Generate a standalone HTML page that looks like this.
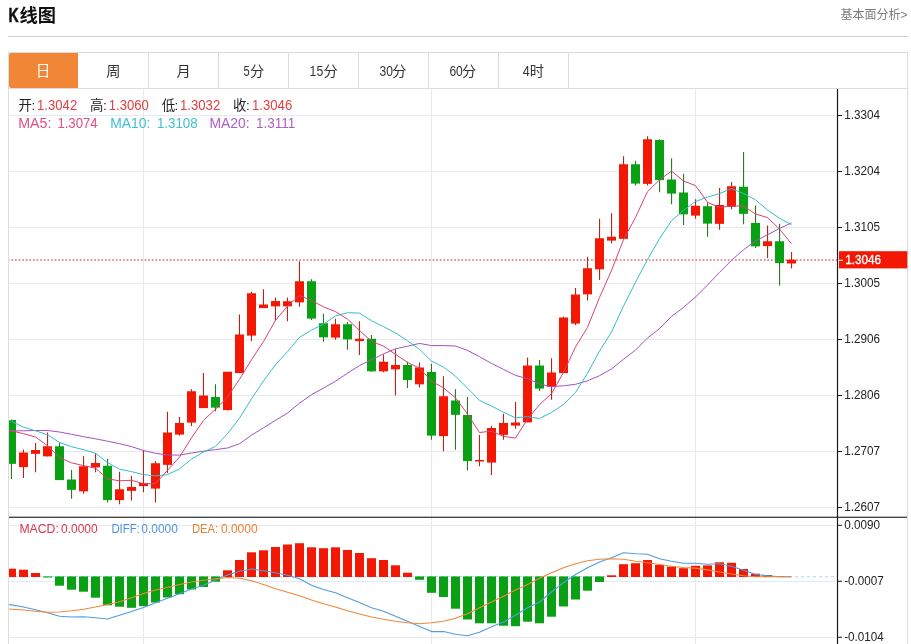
<!DOCTYPE html>
<html lang="zh"><head><meta charset="utf-8"><title>K线图</title>
<style>
html,body{margin:0;padding:0;background:#fff;}
body{width:911px;height:644px;position:relative;overflow:hidden;font-family:"Liberation Sans",sans-serif;}
</style></head><body>
<svg role="img" aria-label="K线图 日K 蜡烛图 MA5 MA10 MA20 MACD" width="911" height="644" viewBox="0 0 911 644" font-family="'Liberation Sans', 'Noto Sans CJK SC', sans-serif" style="position:absolute;left:0;top:0;display:block;will-change:transform">
<g id="header" aria-label="K线图 基本面分析&gt;">
<text x="8.6" y="22.4" font-size="19.6" fill="#111" textLength="10.2" lengthAdjust="spacingAndGlyphs" font-weight="bold" stroke="#111" stroke-width="0.6">K</text>
<text x="19.4" y="22.3" font-size="18.2" fill="#111" font-weight="bold" textLength="36.5" lengthAdjust="spacingAndGlyphs" font-family="'Liberation Sans', 'Noto Sans CJK SC', sans-serif">线图</text>
<text x="840.5" y="19.0" font-size="12.2" fill="#7d7d7d" textLength="60" lengthAdjust="spacingAndGlyphs" font-family="'Liberation Sans', 'Noto Sans CJK SC', sans-serif">基本面分析</text>
<text x="900.6" y="18.8" font-size="12" fill="#7d7d7d">&gt;</text>
<rect x="8" y="36" width="900" height="1" fill="#cfcfcf"/>
</g>
<g id="tabs" aria-label="日 周 月 5分 15分 30分 60分 4时">
<rect x="8.5" y="52.5" width="899" height="36" fill="#fff" stroke="#dcdcdc"/>
<path d="M11 53H78V88H11a2 2 0 0 1-2-2V55a2 2 0 0 1 2-2z" fill="#f08636"/>
<rect x="148" y="53" width="1" height="35" fill="#dcdcdc"/>
<rect x="218" y="53" width="1" height="35" fill="#dcdcdc"/>
<rect x="288" y="53" width="1" height="35" fill="#dcdcdc"/>
<rect x="358" y="53" width="1" height="35" fill="#dcdcdc"/>
<rect x="428" y="53" width="1" height="35" fill="#dcdcdc"/>
<rect x="498" y="53" width="1" height="35" fill="#dcdcdc"/>
<rect x="568" y="53" width="1" height="35" fill="#dcdcdc"/>
<text x="35.8" y="75.8" font-size="14.6" fill="#fff" font-family="'Liberation Sans', 'Noto Sans CJK SC', sans-serif">日</text>
<text x="106.3" y="75.9" font-size="14.2" fill="#333" font-family="'Liberation Sans', 'Noto Sans CJK SC', sans-serif">周</text>
<text x="176.6" y="75.9" font-size="14.2" fill="#333" font-family="'Liberation Sans', 'Noto Sans CJK SC', sans-serif">月</text>
<text x="243.4" y="76.3" font-size="14.2" fill="#333" textLength="6.2" lengthAdjust="spacingAndGlyphs">5</text>
<text x="249.9" y="76.1" font-size="14.2" fill="#333" font-family="'Liberation Sans', 'Noto Sans CJK SC', sans-serif">分</text>
<text x="309.6" y="76.3" font-size="14.2" fill="#333" textLength="13.6" lengthAdjust="spacingAndGlyphs">15</text>
<text x="323.4" y="76.1" font-size="14.2" fill="#333" font-family="'Liberation Sans', 'Noto Sans CJK SC', sans-serif">分</text>
<text x="379.5" y="76.3" font-size="14.2" fill="#333" textLength="13.4" lengthAdjust="spacingAndGlyphs">30</text>
<text x="392.2" y="76.1" font-size="14.2" fill="#333" font-family="'Liberation Sans', 'Noto Sans CJK SC', sans-serif">分</text>
<text x="449.4" y="76.3" font-size="14.2" fill="#333" textLength="13.4" lengthAdjust="spacingAndGlyphs">60</text>
<text x="462.1" y="76.1" font-size="14.2" fill="#333" font-family="'Liberation Sans', 'Noto Sans CJK SC', sans-serif">分</text>
<text x="522.8" y="76.3" font-size="14.2" fill="#333" textLength="7.0" lengthAdjust="spacingAndGlyphs">4</text>
<text x="529.8" y="76.3" font-size="14.2" fill="#333" font-family="'Liberation Sans', 'Noto Sans CJK SC', sans-serif">时</text>
</g>
<g id="grid" shape-rendering="crispEdges">
<rect x="8" y="89" width="1" height="555" fill="#dcdcdc"/>
<rect x="907" y="89" width="1" height="555" fill="#dcdcdc"/>
<rect x="9" y="115" width="826" height="1" fill="#e8e9ed"/>
<rect x="9" y="171" width="826" height="1" fill="#e8e9ed"/>
<rect x="9" y="227" width="826" height="1" fill="#e8e9ed"/>
<rect x="9" y="283" width="826" height="1" fill="#e8e9ed"/>
<rect x="9" y="339" width="826" height="1" fill="#e8e9ed"/>
<rect x="9" y="395" width="826" height="1" fill="#e8e9ed"/>
<rect x="9" y="451" width="826" height="1" fill="#e8e9ed"/>
<rect x="9" y="507" width="826" height="1" fill="#e8e9ed"/>
<rect x="9" y="525" width="826" height="1" fill="#e8e9ed"/>
<rect x="9" y="637" width="826" height="1" fill="#e8e9ed"/>
<rect x="9" y="581" width="826" height="1" fill="#dcedf7"/>
<rect x="143" y="89" width="1" height="555" fill="#e8e9ed"/>
<rect x="431" y="89" width="1" height="555" fill="#e8e9ed"/>
<rect x="695" y="89" width="1" height="555" fill="#e8e9ed"/>
</g>
<defs><clipPath id="cp"><rect x="9" y="89" width="828" height="428"/></clipPath><clipPath id="cm"><rect x="9" y="518" width="828" height="126"/></clipPath></defs>
<g id="legend" aria-label="开:1.3042 高:1.3060 低:1.3032 收:1.3046">
<text x="18.4" y="109.6" font-size="13.4" fill="#222" font-family="'Liberation Sans', 'Noto Sans CJK SC', sans-serif">开</text>
<text x="31.4" y="110.0" font-size="13.5" fill="#222">:</text>
<text x="37.0" y="110.0" font-size="13.8" fill="#e24040" textLength="40.2" lengthAdjust="spacingAndGlyphs">1.3042</text>
<text x="90.1" y="109.9" font-size="13.4" fill="#222" font-family="'Liberation Sans', 'Noto Sans CJK SC', sans-serif">高</text>
<text x="103.0" y="110.0" font-size="13.5" fill="#222">:</text>
<text x="108.7" y="110.0" font-size="13.8" fill="#e24040" textLength="40.2" lengthAdjust="spacingAndGlyphs">1.3060</text>
<text x="161.7" y="109.8" font-size="13.4" fill="#222" font-family="'Liberation Sans', 'Noto Sans CJK SC', sans-serif">低</text>
<text x="174.6" y="110.0" font-size="13.5" fill="#222">:</text>
<text x="180.0" y="110.0" font-size="13.8" fill="#e24040" textLength="40.2" lengthAdjust="spacingAndGlyphs">1.3032</text>
<text x="232.9" y="109.9" font-size="13.4" fill="#222" font-family="'Liberation Sans', 'Noto Sans CJK SC', sans-serif">收</text>
<text x="246.0" y="110.0" font-size="13.5" fill="#222">:</text>
<text x="252.0" y="110.0" font-size="13.8" fill="#e24040" textLength="40.2" lengthAdjust="spacingAndGlyphs">1.3046</text>
<text x="18.2" y="127.9" font-size="13.8" fill="#e0507f" textLength="33.2" lengthAdjust="spacingAndGlyphs">MA5:</text>
<text x="57.4" y="127.9" font-size="13.8" fill="#e0507f" textLength="40.2" lengthAdjust="spacingAndGlyphs">1.3074</text>
<text x="110.2" y="127.9" font-size="13.8" fill="#3fbfd2" textLength="40.2" lengthAdjust="spacingAndGlyphs">MA10:</text>
<text x="156.9" y="127.9" font-size="13.8" fill="#3fbfd2" textLength="40.8" lengthAdjust="spacingAndGlyphs">1.3108</text>
<text x="209.4" y="127.9" font-size="13.8" fill="#aa5fc9" textLength="40.2" lengthAdjust="spacingAndGlyphs">MA20:</text>
<text x="256.0" y="127.9" font-size="13.8" fill="#aa5fc9" textLength="39.4" lengthAdjust="spacingAndGlyphs">1.3111</text>
</g>
<line x1="9" y1="260.1" x2="837" y2="260.1" stroke="#dd6f75" stroke-width="1.5" stroke-dasharray="1.7 1.9" stroke-dashoffset="1.2"/>
<g id="candles" clip-path="url(#cp)">
<rect x="10.9" y="419.50" width="1.1" height="59.50" fill="#2b7a23"/>
<rect x="7" y="420.00" width="9" height="43.85" fill="#0aa014"/>
<rect x="22.9" y="449.50" width="1.1" height="28.50" fill="#b3261b"/>
<rect x="19" y="452.50" width="9" height="14.60" fill="#f21804"/>
<rect x="35.0" y="443.00" width="1.1" height="29.25" fill="#b3261b"/>
<rect x="31" y="450.00" width="9" height="3.85" fill="#f21804"/>
<rect x="47.0" y="432.50" width="1.1" height="24.00" fill="#b3261b"/>
<rect x="43" y="446.25" width="9" height="10.10" fill="#f21804"/>
<rect x="59.0" y="442.50" width="1.1" height="37.50" fill="#2b7a23"/>
<rect x="55" y="446.25" width="9" height="33.85" fill="#0aa014"/>
<rect x="71.0" y="470.00" width="1.1" height="28.75" fill="#2b7a23"/>
<rect x="67" y="479.50" width="9" height="10.35" fill="#0aa014"/>
<rect x="83.0" y="456.25" width="1.1" height="37.50" fill="#b3261b"/>
<rect x="79" y="466.25" width="9" height="25.10" fill="#f21804"/>
<rect x="95.0" y="453.25" width="1.1" height="19.00" fill="#b3261b"/>
<rect x="91" y="463.00" width="9" height="4.35" fill="#f21804"/>
<rect x="107.0" y="458.75" width="1.1" height="43.75" fill="#2b7a23"/>
<rect x="103" y="465.75" width="9" height="34.35" fill="#0aa014"/>
<rect x="119.0" y="471.75" width="1.1" height="32.50" fill="#b3261b"/>
<rect x="115" y="489.25" width="9" height="10.85" fill="#f21804"/>
<rect x="130.9" y="475.75" width="1.1" height="24.75" fill="#b3261b"/>
<rect x="127" y="487.00" width="9" height="3.85" fill="#f21804"/>
<rect x="142.9" y="450.00" width="1.1" height="42.25" fill="#b3261b"/>
<rect x="139" y="483.00" width="9" height="3.10" fill="#f21804"/>
<rect x="154.9" y="461.25" width="1.1" height="41.25" fill="#b3261b"/>
<rect x="151" y="463.25" width="9" height="25.35" fill="#f21804"/>
<rect x="166.9" y="411.75" width="1.1" height="61.25" fill="#b3261b"/>
<rect x="163" y="432.50" width="9" height="32.35" fill="#f21804"/>
<rect x="178.9" y="417.00" width="1.1" height="18.50" fill="#b3261b"/>
<rect x="175" y="423.00" width="9" height="11.60" fill="#f21804"/>
<rect x="190.9" y="389.25" width="1.1" height="36.75" fill="#b3261b"/>
<rect x="187" y="391.25" width="9" height="31.35" fill="#f21804"/>
<rect x="202.9" y="373.00" width="1.1" height="35.00" fill="#b3261b"/>
<rect x="199" y="395.50" width="9" height="12.60" fill="#f21804"/>
<rect x="214.9" y="384.25" width="1.1" height="27.00" fill="#2b7a23"/>
<rect x="211" y="397.00" width="9" height="10.60" fill="#0aa014"/>
<rect x="226.9" y="371.75" width="1.1" height="38.75" fill="#b3261b"/>
<rect x="223" y="371.75" width="9" height="38.35" fill="#f21804"/>
<rect x="238.9" y="314.50" width="1.1" height="58.50" fill="#b3261b"/>
<rect x="235" y="334.50" width="9" height="38.60" fill="#f21804"/>
<rect x="250.9" y="291.75" width="1.1" height="49.50" fill="#b3261b"/>
<rect x="247" y="293.25" width="9" height="42.35" fill="#f21804"/>
<rect x="262.9" y="289.25" width="1.1" height="18.75" fill="#b3261b"/>
<rect x="259" y="304.50" width="9" height="3.60" fill="#f21804"/>
<rect x="274.9" y="297.50" width="1.1" height="23.00" fill="#b3261b"/>
<rect x="271" y="301.00" width="9" height="5.35" fill="#f21804"/>
<rect x="286.9" y="297.50" width="1.1" height="23.75" fill="#b3261b"/>
<rect x="283" y="301.25" width="9" height="5.10" fill="#f21804"/>
<rect x="298.9" y="261.25" width="1.1" height="45.50" fill="#b3261b"/>
<rect x="295" y="281.25" width="9" height="21.10" fill="#f21804"/>
<rect x="310.9" y="279.25" width="1.1" height="40.75" fill="#2b7a23"/>
<rect x="307" y="281.25" width="9" height="37.35" fill="#0aa014"/>
<rect x="322.9" y="313.75" width="1.1" height="28.00" fill="#2b7a23"/>
<rect x="319" y="323.25" width="9" height="14.10" fill="#0aa014"/>
<rect x="334.9" y="318.75" width="1.1" height="21.00" fill="#b3261b"/>
<rect x="331" y="324.25" width="9" height="13.35" fill="#f21804"/>
<rect x="346.9" y="322.00" width="1.1" height="27.75" fill="#2b7a23"/>
<rect x="343" y="324.25" width="9" height="15.10" fill="#0aa014"/>
<rect x="358.9" y="321.25" width="1.1" height="33.75" fill="#b3261b"/>
<rect x="355" y="338.75" width="9" height="2.35" fill="#f21804"/>
<rect x="370.9" y="335.00" width="1.1" height="36.75" fill="#2b7a23"/>
<rect x="367" y="338.75" width="9" height="32.60" fill="#0aa014"/>
<rect x="382.9" y="354.50" width="1.1" height="17.75" fill="#b3261b"/>
<rect x="379" y="361.75" width="9" height="9.60" fill="#f21804"/>
<rect x="394.9" y="349.25" width="1.1" height="46.25" fill="#b3261b"/>
<rect x="391" y="365.00" width="9" height="4.35" fill="#f21804"/>
<rect x="406.9" y="361.75" width="1.1" height="26.25" fill="#2b7a23"/>
<rect x="403" y="365.00" width="9" height="15.10" fill="#0aa014"/>
<rect x="418.9" y="362.50" width="1.1" height="25.00" fill="#b3261b"/>
<rect x="415" y="367.50" width="9" height="16.85" fill="#f21804"/>
<rect x="430.9" y="363.75" width="1.1" height="76.00" fill="#2b7a23"/>
<rect x="427" y="372.00" width="9" height="63.60" fill="#0aa014"/>
<rect x="442.9" y="376.25" width="1.1" height="75.00" fill="#b3261b"/>
<rect x="439" y="396.25" width="9" height="39.85" fill="#f21804"/>
<rect x="454.9" y="389.25" width="1.1" height="60.50" fill="#2b7a23"/>
<rect x="451" y="400.50" width="9" height="14.35" fill="#0aa014"/>
<rect x="466.9" y="397.00" width="1.1" height="73.50" fill="#2b7a23"/>
<rect x="463" y="415.00" width="9" height="46.10" fill="#0aa014"/>
<rect x="478.9" y="435.00" width="1.1" height="31.25" fill="#b3261b"/>
<rect x="475" y="460.00" width="9" height="1.50" fill="#f21804"/>
<rect x="490.9" y="425.75" width="1.1" height="49.25" fill="#b3261b"/>
<rect x="487" y="428.00" width="9" height="34.60" fill="#f21804"/>
<rect x="502.9" y="413.75" width="1.1" height="26.00" fill="#b3261b"/>
<rect x="499" y="423.00" width="9" height="11.85" fill="#f21804"/>
<rect x="515.0" y="402.00" width="1.1" height="26.75" fill="#b3261b"/>
<rect x="511" y="422.50" width="9" height="3.10" fill="#f21804"/>
<rect x="527.0" y="357.50" width="1.1" height="64.75" fill="#b3261b"/>
<rect x="523" y="365.50" width="9" height="56.85" fill="#f21804"/>
<rect x="539.0" y="360.00" width="1.1" height="31.00" fill="#2b7a23"/>
<rect x="535" y="365.50" width="9" height="23.10" fill="#0aa014"/>
<rect x="551.0" y="358.25" width="1.1" height="41.50" fill="#b3261b"/>
<rect x="547" y="372.50" width="9" height="14.35" fill="#f21804"/>
<rect x="563.0" y="316.75" width="1.1" height="56.25" fill="#b3261b"/>
<rect x="559" y="317.50" width="9" height="55.60" fill="#f21804"/>
<rect x="575.0" y="288.00" width="1.1" height="37.00" fill="#b3261b"/>
<rect x="571" y="294.50" width="9" height="29.10" fill="#f21804"/>
<rect x="587.0" y="256.75" width="1.1" height="43.75" fill="#b3261b"/>
<rect x="583" y="268.25" width="9" height="26.10" fill="#f21804"/>
<rect x="599.0" y="218.75" width="1.1" height="61.25" fill="#b3261b"/>
<rect x="595" y="238.25" width="9" height="31.10" fill="#f21804"/>
<rect x="611.0" y="213.25" width="1.1" height="30.25" fill="#b3261b"/>
<rect x="607" y="236.75" width="9" height="3.85" fill="#f21804"/>
<rect x="623.0" y="156.25" width="1.1" height="83.00" fill="#b3261b"/>
<rect x="619" y="164.25" width="9" height="74.60" fill="#f21804"/>
<rect x="635.0" y="160.75" width="1.1" height="24.75" fill="#2b7a23"/>
<rect x="631" y="164.25" width="9" height="19.35" fill="#0aa014"/>
<rect x="647.0" y="136.25" width="1.1" height="49.25" fill="#b3261b"/>
<rect x="643" y="139.25" width="9" height="44.60" fill="#f21804"/>
<rect x="659.0" y="139.25" width="1.1" height="53.00" fill="#2b7a23"/>
<rect x="655" y="140.00" width="9" height="40.10" fill="#0aa014"/>
<rect x="671.0" y="158.25" width="1.1" height="46.00" fill="#2b7a23"/>
<rect x="667" y="179.50" width="9" height="14.10" fill="#0aa014"/>
<rect x="683.0" y="173.75" width="1.1" height="51.25" fill="#2b7a23"/>
<rect x="679" y="192.50" width="9" height="21.85" fill="#0aa014"/>
<rect x="695.0" y="199.25" width="1.1" height="19.50" fill="#b3261b"/>
<rect x="691" y="205.75" width="9" height="9.85" fill="#f21804"/>
<rect x="707.0" y="202.50" width="1.1" height="34.25" fill="#2b7a23"/>
<rect x="703" y="206.25" width="9" height="17.35" fill="#0aa014"/>
<rect x="719.0" y="188.00" width="1.1" height="41.75" fill="#b3261b"/>
<rect x="715" y="205.00" width="9" height="18.85" fill="#f21804"/>
<rect x="731.0" y="182.00" width="1.1" height="27.25" fill="#b3261b"/>
<rect x="727" y="186.25" width="9" height="20.60" fill="#f21804"/>
<rect x="743.0" y="152.00" width="1.1" height="72.25" fill="#2b7a23"/>
<rect x="739" y="186.75" width="9" height="27.10" fill="#0aa014"/>
<rect x="755.0" y="205.50" width="1.1" height="42.50" fill="#2b7a23"/>
<rect x="751" y="223.00" width="9" height="23.35" fill="#0aa014"/>
<rect x="767.0" y="225.50" width="1.1" height="32.50" fill="#b3261b"/>
<rect x="763" y="241.25" width="9" height="4.85" fill="#f21804"/>
<rect x="779.0" y="223.75" width="1.1" height="61.75" fill="#2b7a23"/>
<rect x="775" y="241.25" width="9" height="21.85" fill="#0aa014"/>
<rect x="791.0" y="252.00" width="1.1" height="16.50" fill="#b3261b"/>
<rect x="787" y="259.70" width="9" height="3.80" fill="#f21804"/>
</g>
<g id="ma" clip-path="url(#cp)">
<path d="M9.0 430.8 L11.5 430.8 L23.5 430.8 L35.5 430.5 L47.5 430.5 L59.5 432.0 L71.5 434.3 L83.5 436.7 L95.5 438.8 L107.5 441.2 L119.5 443.7 L131.5 446.6 L143.5 450.5 L155.5 453.3 L167.5 455.0 L179.5 455.1 L191.5 453.0 L203.5 451.2 L215.5 449.6 L227.5 448.0 L239.5 443.7 L251.5 435.2 L263.5 427.8 L275.5 420.3 L287.5 413.1 L299.5 403.2 L311.5 394.6 L323.5 388.1 L335.5 381.2 L347.5 373.2 L359.5 365.6 L371.5 359.8 L383.5 353.8 L395.5 348.8 L407.5 346.2 L419.5 343.4 L431.5 345.6 L443.5 345.6 L455.5 346.0 L467.5 350.4 L479.5 356.7 L491.5 363.4 L503.5 369.4 L515.5 375.4 L527.5 378.7 L539.5 384.0 L551.5 386.7 L563.5 385.8 L575.5 384.3 L587.5 380.8 L599.5 375.7 L611.5 369.0 L623.5 359.2 L635.5 350.1 L647.5 338.0 L659.5 328.6 L671.5 316.5 L683.5 307.4 L695.5 297.0 L707.5 285.1 L719.5 272.4 L731.5 260.3 L743.5 249.8 L755.5 241.0 L767.5 234.7 L779.5 228.5 L791.5 222.8" fill="none" stroke="#a152c0" stroke-width="1.0" stroke-linejoin="round" stroke-linecap="butt"/>
<path d="M9.0 420.3 L11.5 421.3 L23.5 427.2 L35.5 430.8 L47.5 434.7 L59.5 442.5 L71.5 446.7 L83.5 449.7 L95.5 453.3 L107.5 462.5 L119.5 469.2 L131.5 471.6 L143.5 474.6 L155.5 475.9 L167.5 474.6 L179.5 468.9 L191.5 459.1 L203.5 452.0 L215.5 446.4 L227.5 433.7 L239.5 418.2 L251.5 398.8 L263.5 380.9 L275.5 364.7 L287.5 351.6 L299.5 337.4 L311.5 330.1 L323.5 324.2 L335.5 315.9 L347.5 312.7 L359.5 313.1 L371.5 320.8 L383.5 326.6 L395.5 332.9 L407.5 340.8 L419.5 349.4 L431.5 361.1 L443.5 367.1 L455.5 376.1 L467.5 388.2 L479.5 400.4 L491.5 406.1 L503.5 412.2 L515.5 417.9 L527.5 416.6 L539.5 418.6 L551.5 412.4 L563.5 404.5 L575.5 392.5 L587.5 373.3 L599.5 351.1 L611.5 332.0 L623.5 306.1 L635.5 282.2 L647.5 259.5 L659.5 238.7 L671.5 220.7 L683.5 210.4 L695.5 201.5 L707.5 197.0 L719.5 193.6 L731.5 188.6 L743.5 193.5 L755.5 199.8 L767.5 210.0 L779.5 218.2 L791.5 224.9" fill="none" stroke="#36bccd" stroke-width="1.0" stroke-linejoin="round" stroke-linecap="butt"/>
<path d="M9.0 430.3 L11.5 430.8 L23.5 433.7 L35.5 437.0 L47.5 445.8 L59.5 457.6 L71.5 462.8 L83.5 465.6 L95.5 468.2 L107.5 478.8 L119.5 480.8 L131.5 480.3 L143.5 483.7 L155.5 483.7 L167.5 470.3 L179.5 457.1 L191.5 437.9 L203.5 420.4 L215.5 409.2 L227.5 397.0 L239.5 379.3 L251.5 359.7 L263.5 341.5 L275.5 320.3 L287.5 306.2 L299.5 295.6 L311.5 300.5 L323.5 306.9 L335.5 311.6 L347.5 319.1 L359.5 330.6 L371.5 341.2 L383.5 346.2 L395.5 354.3 L407.5 362.4 L419.5 368.2 L431.5 381.1 L443.5 387.9 L455.5 397.8 L467.5 414.0 L479.5 432.5 L491.5 431.1 L503.5 436.4 L515.5 438.1 L527.5 419.1 L539.5 404.7 L551.5 393.6 L563.5 372.5 L575.5 346.9 L587.5 327.4 L599.5 297.5 L611.5 270.4 L623.5 239.7 L635.5 217.4 L647.5 191.6 L659.5 179.9 L671.5 171.1 L683.5 181.0 L695.5 185.6 L707.5 202.3 L719.5 207.4 L731.5 206.1 L743.5 206.0 L755.5 214.0 L767.5 217.6 L779.5 229.1 L791.5 243.8" fill="none" stroke="#d64373" stroke-width="1.0" stroke-linejoin="round" stroke-linecap="butt"/>
</g>
<g id="macd" clip-path="url(#cm)">
<line x1="9" y1="576.7" x2="834" y2="576.7" stroke="#bfe0f3" stroke-width="1.3" stroke-dasharray="3 3" stroke-dashoffset="0"/>
<rect x="7" y="568.70" width="9" height="8.30" fill="#f21804"/>
<rect x="19" y="569.70" width="9" height="7.30" fill="#f21804"/>
<rect x="31" y="573.00" width="9" height="4.00" fill="#f21804"/>
<rect x="43" y="576.40" width="9" height="1.10" fill="#0aa014"/>
<rect x="55" y="576.40" width="9" height="9.30" fill="#0aa014"/>
<rect x="67" y="576.40" width="9" height="13.30" fill="#0aa014"/>
<rect x="79" y="576.40" width="9" height="15.30" fill="#0aa014"/>
<rect x="91" y="576.40" width="9" height="21.30" fill="#0aa014"/>
<rect x="103" y="576.40" width="9" height="28.90" fill="#0aa014"/>
<rect x="115" y="576.40" width="9" height="30.30" fill="#0aa014"/>
<rect x="127" y="576.40" width="9" height="31.40" fill="#0aa014"/>
<rect x="139" y="576.40" width="9" height="29.80" fill="#0aa014"/>
<rect x="151" y="576.40" width="9" height="26.10" fill="#0aa014"/>
<rect x="163" y="576.40" width="9" height="21.10" fill="#0aa014"/>
<rect x="175" y="576.40" width="9" height="17.80" fill="#0aa014"/>
<rect x="187" y="576.40" width="9" height="13.10" fill="#0aa014"/>
<rect x="199" y="576.40" width="9" height="10.60" fill="#0aa014"/>
<rect x="211" y="576.40" width="9" height="5.30" fill="#0aa014"/>
<rect x="223" y="570.30" width="9" height="6.70" fill="#f21804"/>
<rect x="235" y="560.00" width="9" height="17.00" fill="#f21804"/>
<rect x="247" y="552.30" width="9" height="24.70" fill="#f21804"/>
<rect x="259" y="550.30" width="9" height="26.70" fill="#f21804"/>
<rect x="271" y="547.00" width="9" height="30.00" fill="#f21804"/>
<rect x="283" y="544.50" width="9" height="32.50" fill="#f21804"/>
<rect x="295" y="543.20" width="9" height="33.80" fill="#f21804"/>
<rect x="307" y="547.30" width="9" height="29.70" fill="#f21804"/>
<rect x="319" y="548.20" width="9" height="28.80" fill="#f21804"/>
<rect x="331" y="547.30" width="9" height="29.70" fill="#f21804"/>
<rect x="343" y="550.00" width="9" height="27.00" fill="#f21804"/>
<rect x="355" y="553.00" width="9" height="24.00" fill="#f21804"/>
<rect x="367" y="558.20" width="9" height="18.80" fill="#f21804"/>
<rect x="379" y="560.00" width="9" height="17.00" fill="#f21804"/>
<rect x="391" y="565.30" width="9" height="11.70" fill="#f21804"/>
<rect x="403" y="572.70" width="9" height="4.30" fill="#f21804"/>
<rect x="415" y="576.40" width="9" height="3.40" fill="#0aa014"/>
<rect x="427" y="576.40" width="9" height="16.40" fill="#0aa014"/>
<rect x="439" y="576.40" width="9" height="20.60" fill="#0aa014"/>
<rect x="451" y="576.40" width="9" height="32.30" fill="#0aa014"/>
<rect x="463" y="576.40" width="9" height="43.10" fill="#0aa014"/>
<rect x="475" y="576.40" width="9" height="46.90" fill="#0aa014"/>
<rect x="487" y="576.40" width="9" height="46.90" fill="#0aa014"/>
<rect x="499" y="576.40" width="9" height="49.30" fill="#0aa014"/>
<rect x="511" y="576.40" width="9" height="49.80" fill="#0aa014"/>
<rect x="523" y="576.40" width="9" height="45.30" fill="#0aa014"/>
<rect x="535" y="576.40" width="9" height="46.90" fill="#0aa014"/>
<rect x="547" y="576.40" width="9" height="40.30" fill="#0aa014"/>
<rect x="559" y="576.40" width="9" height="30.10" fill="#0aa014"/>
<rect x="571" y="576.40" width="9" height="23.10" fill="#0aa014"/>
<rect x="583" y="576.40" width="9" height="14.30" fill="#0aa014"/>
<rect x="595" y="576.40" width="9" height="5.60" fill="#0aa014"/>
<rect x="607" y="575.30" width="9" height="1.70" fill="#f21804"/>
<rect x="619" y="564.20" width="9" height="12.80" fill="#f21804"/>
<rect x="631" y="563.20" width="9" height="13.80" fill="#f21804"/>
<rect x="643" y="560.00" width="9" height="17.00" fill="#f21804"/>
<rect x="655" y="565.00" width="9" height="12.00" fill="#f21804"/>
<rect x="667" y="566.70" width="9" height="10.30" fill="#f21804"/>
<rect x="679" y="568.20" width="9" height="8.80" fill="#f21804"/>
<rect x="691" y="565.80" width="9" height="11.20" fill="#f21804"/>
<rect x="703" y="565.40" width="9" height="11.60" fill="#f21804"/>
<rect x="715" y="562.30" width="9" height="14.70" fill="#f21804"/>
<rect x="727" y="562.80" width="9" height="14.20" fill="#f21804"/>
<rect x="739" y="569.00" width="9" height="8.00" fill="#f21804"/>
<rect x="751" y="573.70" width="9" height="3.30" fill="#f21804"/>
<rect x="763" y="575.00" width="9" height="2.00" fill="#f21804"/>
<rect x="775" y="576.00" width="9" height="1.00" fill="#f21804"/>
<path d="M9.0 604.5 L11.5 604.9 L23.5 607.0 L35.5 609.8 L47.5 612.8 L59.5 616.3 L71.5 617.0 L83.5 616.7 L95.5 617.8 L107.5 619.0 L119.5 615.3 L131.5 611.5 L143.5 607.5 L155.5 602.8 L167.5 598.2 L179.5 593.7 L191.5 589.0 L203.5 585.3 L215.5 580.0 L227.5 575.0 L239.5 571.2 L251.5 569.0 L263.5 570.8 L275.5 572.8 L287.5 575.3 L299.5 578.7 L311.5 585.3 L323.5 589.5 L335.5 592.8 L347.5 597.8 L359.5 602.5 L371.5 607.8 L383.5 611.2 L395.5 616.2 L407.5 621.2 L419.5 626.5 L431.5 631.6 L443.5 631.5 L455.5 634.2 L467.5 635.8 L479.5 632.3 L491.5 626.7 L503.5 622.0 L515.5 615.3 L527.5 607.8 L539.5 602.0 L551.5 592.0 L563.5 582.8 L575.5 574.5 L587.5 567.8 L599.5 562.0 L611.5 557.8 L623.5 552.8 L635.5 553.7 L647.5 554.2 L659.5 558.7 L671.5 561.2 L683.5 563.2 L695.5 563.2 L707.5 564.2 L719.5 563.7 L731.5 566.2 L743.5 570.3 L755.5 574.5 L767.5 575.7 L779.5 576.7 L791.5 576.8" fill="none" stroke="#4f9de0" stroke-width="1.1" stroke-linejoin="round" stroke-linecap="butt"/>
<path d="M9.0 609.0 L11.5 609.2 L23.5 610.0 L35.5 611.2 L47.5 612.3 L59.5 612.0 L71.5 610.8 L83.5 609.2 L95.5 607.0 L107.5 604.5 L119.5 601.7 L131.5 597.8 L143.5 593.5 L155.5 590.0 L167.5 587.5 L179.5 584.5 L191.5 582.0 L203.5 580.3 L215.5 578.7 L227.5 577.5 L239.5 578.3 L251.5 580.7 L263.5 584.5 L275.5 588.7 L287.5 592.2 L299.5 595.7 L311.5 600.0 L323.5 603.7 L335.5 607.0 L347.5 610.8 L359.5 614.0 L371.5 617.0 L383.5 619.2 L395.5 621.2 L407.5 622.8 L419.5 623.7 L431.5 622.8 L443.5 621.2 L455.5 618.3 L467.5 613.7 L479.5 607.8 L491.5 602.0 L503.5 596.2 L515.5 590.0 L527.5 584.5 L539.5 578.3 L551.5 572.8 L563.5 567.8 L575.5 563.7 L587.5 560.8 L599.5 559.2 L611.5 558.7 L623.5 559.2 L635.5 561.2 L647.5 562.8 L659.5 564.5 L671.5 566.2 L683.5 567.5 L695.5 568.1 L707.5 569.9 L719.5 572.0 L731.5 574.0 L743.5 575.7 L755.5 576.7 L767.5 576.7 L779.5 576.8 L791.5 576.8" fill="none" stroke="#f0883a" stroke-width="1.1" stroke-linejoin="round" stroke-linecap="butt"/>
</g>
<g id="macdlegend">
<text x="19.4" y="533.2" font-size="12.4" fill="#d8384c" textLength="39.4" lengthAdjust="spacingAndGlyphs">MACD:</text>
<text x="61.0" y="533.2" font-size="12.4" fill="#d8384c" textLength="36.6" lengthAdjust="spacingAndGlyphs">0.0000</text>
<text x="111.4" y="533.2" font-size="12.4" fill="#4f96dc" textLength="28.4" lengthAdjust="spacingAndGlyphs">DIFF:</text>
<text x="141.3" y="533.2" font-size="12.4" fill="#4f96dc" textLength="36.6" lengthAdjust="spacingAndGlyphs">0.0000</text>
<text x="192.0" y="533.2" font-size="12.4" fill="#ea8232" textLength="26.2" lengthAdjust="spacingAndGlyphs">DEA:</text>
<text x="220.9" y="533.2" font-size="12.4" fill="#ea8232" textLength="36.8" lengthAdjust="spacingAndGlyphs">0.0000</text>
</g>
<g id="axis">
<rect x="9" y="516.7" width="898" height="1.1" fill="#1a1a1a"/>
<rect x="836.9" y="89" width="1.2" height="555" fill="#1a1a1a"/>
<rect x="838" y="115.0" width="4" height="1" fill="#1a1a1a"/>
<text x="844.2" y="119.4" font-size="12" fill="#222" textLength="35.8" lengthAdjust="spacingAndGlyphs">1.3304</text>
<rect x="838" y="171.0" width="4" height="1" fill="#1a1a1a"/>
<text x="844.2" y="175.4" font-size="12" fill="#222" textLength="35.8" lengthAdjust="spacingAndGlyphs">1.3204</text>
<rect x="838" y="227.0" width="4" height="1" fill="#1a1a1a"/>
<text x="844.2" y="231.4" font-size="12" fill="#222" textLength="35.8" lengthAdjust="spacingAndGlyphs">1.3105</text>
<rect x="838" y="283.0" width="4" height="1" fill="#1a1a1a"/>
<text x="844.2" y="287.4" font-size="12" fill="#222" textLength="35.8" lengthAdjust="spacingAndGlyphs">1.3005</text>
<rect x="838" y="339.0" width="4" height="1" fill="#1a1a1a"/>
<text x="844.2" y="343.4" font-size="12" fill="#222" textLength="35.8" lengthAdjust="spacingAndGlyphs">1.2906</text>
<rect x="838" y="395.0" width="4" height="1" fill="#1a1a1a"/>
<text x="844.2" y="399.4" font-size="12" fill="#222" textLength="35.8" lengthAdjust="spacingAndGlyphs">1.2806</text>
<rect x="838" y="451.0" width="4" height="1" fill="#1a1a1a"/>
<text x="844.2" y="455.4" font-size="12" fill="#222" textLength="35.8" lengthAdjust="spacingAndGlyphs">1.2707</text>
<rect x="838" y="507.0" width="4" height="1" fill="#1a1a1a"/>
<text x="844.2" y="511.4" font-size="12" fill="#222" textLength="35.8" lengthAdjust="spacingAndGlyphs">1.2607</text>
<rect x="838" y="524.8" width="4" height="1" fill="#1a1a1a"/>
<text x="844.2" y="529.1999999999999" font-size="12" fill="#222" textLength="35.8" lengthAdjust="spacingAndGlyphs">0.0090</text>
<rect x="838" y="580.8" width="4" height="1" fill="#1a1a1a"/>
<text x="844.2" y="585.1999999999999" font-size="12" fill="#222" textLength="39.6" lengthAdjust="spacingAndGlyphs">-0.0007</text>
<rect x="838" y="636.8" width="4" height="1" fill="#1a1a1a"/>
<text x="844.2" y="641.1999999999999" font-size="12" fill="#222" textLength="39.6" lengthAdjust="spacingAndGlyphs">-0.0104</text>
<rect x="839" y="251.2" width="68.3" height="17.2" fill="#f21804"/>
<rect x="839" y="259.8" width="4" height="1" fill="#fff"/>
<text x="845.2" y="264.4" font-size="12.2" fill="#fff" textLength="35.8" lengthAdjust="spacingAndGlyphs" stroke="#fff" stroke-width="0.35">1.3046</text>
</g>
</svg>
</body></html>
